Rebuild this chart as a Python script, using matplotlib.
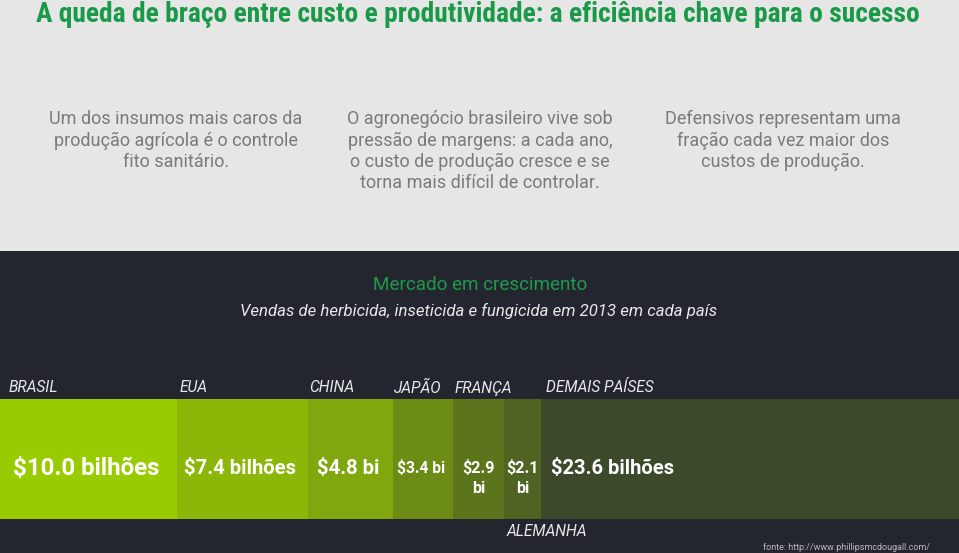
import matplotlib.pyplot as plt
from matplotlib import font_manager
from matplotlib.patches import Rectangle
from matplotlib.transforms import blended_transform_factory

W, H = 959, 553

title = "A queda de braço entre custo e produtividade: a eficiência chave para o sucesso"
paragraphs = [
    "Um dos insumos mais caros da\nprodução agrícola é o controle\nfito sanitário.",
    "O agronegócio brasileiro vive sob\npressão de margens: a cada ano,\no custo de produção cresce e se\ntorna mais difícil de controlar.",
    "Defensivos representam uma\nfração cada vez maior dos\ncustos de produção.",
]
countries = ["BRASIL", "EUA", "CHINA", "JAPÃO", "FRANÇA", "ALEMANHA", "DEMAIS PAÍSES"]
sales = [10.0, 7.4, 4.8, 3.4, 2.9, 2.1, 23.6]  # bilhões de US$
value_labels = ["$10.0 bilhões", "$7.4 bilhões", "$4.8 bi", "$3.4 bi",
                "$2.9\nbi", "$2.1\nbi", "$23.6 bilhões"]
colors = ["#99cc00", "#8cb608", "#80a70e", "#6c8c16", "#5c741c", "#4f6322", "#3c4a2b"]

plt.rcParams['font.family'] = ['Roboto', 'DejaVu Sans']

installed = {f.name for f in font_manager.fontManager.ttflist}
title_font = ['Roboto Condensed', 'Roboto'] if 'Roboto Condensed' in installed else ['Roboto']
title_size = 19.8 if 'Roboto Condensed' in installed else 15.5

fig = plt.figure(figsize=(W / 100, H / 100), dpi=100)
fig.patch.set_facecolor("#e6e6e6")


def fy(y):
    return 1 - y / H


# dark lower panel
fig.patches.append(Rectangle((0, 0), 1, fy(251), transform=fig.transFigure,
                             facecolor="#23262f", edgecolor="none", zorder=-5))

fig.text(478 / W, fy(14), title, ha="center", va="center", color="#1a9a48",
         fontsize=title_size, fontweight="bold", family=title_font)

for cx, txt in zip([176, 480, 783], paragraphs):
    fig.text(cx / W, fy(110), txt, ha="center", va="top", color="#7a7a7a",
             fontsize=13, linespacing=1.24)

fig.text(480 / W, fy(285), "Mercado em crescimento", ha="center", va="center",
         color="#1e9a4a", fontsize=13.6)
fig.text(479 / W, fy(311), "Vendas de herbicida, inseticida e fungicida em 2013 em cada país",
         ha="center", va="center", color="#e8e8e8", fontsize=12.1, style="italic")

# stacked bar
ax = fig.add_axes([0, fy(519), 1, 120 / H])
ax.set_zorder(1)
lefts = [sum(sales[:i]) for i in range(len(sales))]
ax.barh([0], sales, left=lefts, height=1, color=colors, edgecolor="none")
ax.set_xlim(0, sum(sales))
ax.set_ylim(-0.5, 0.5)
ax.axis("off")

tr = blended_transform_factory(ax.transData, fig.transFigure)
px = sum(sales) / W  # data units per pixel

name_offsets = [9, 3, 1, 1, 2, 2, 5]
for name, left, off in zip(countries, lefts, name_offsets):
    y = 532 if name == "ALEMANHA" else 388
    ax.text(left + off * px, fy(y), name, transform=tr, ha="left", va="center",
            color="#e8e8e8", fontsize=11.2, style="italic", clip_on=False)

label_sizes = [17.3, 14.6, 14.6, 11.2, 11.6, 11.6, 14.5]
for i, (lbl, left, val) in enumerate(zip(value_labels, lefts, sales)):
    if i == len(sales) - 1:
        ax.text(left + 10 * px, fy(468), lbl, transform=tr, ha="left", va="center",
                color="white", fontsize=label_sizes[i], fontweight="bold")
    elif "\n" in lbl:
        ax.text(left + val / 2, fy(478), lbl, transform=tr, ha="center", va="center",
                color="white", fontsize=label_sizes[i], fontweight="bold", linespacing=1.35)
    else:
        ax.text(left + val / 2 - 2 * px, fy(468), lbl, transform=tr, ha="center", va="center",
                color="white", fontsize=label_sizes[i], fontweight="bold")

fig.text(930 / W, fy(547), "fonte: http://www.phillipsmcdougall.com/", ha="right",
         va="center", color="#bbbbbb", fontsize=6.5)

fig.savefig("out.png", dpi=100, facecolor=fig.get_facecolor())
